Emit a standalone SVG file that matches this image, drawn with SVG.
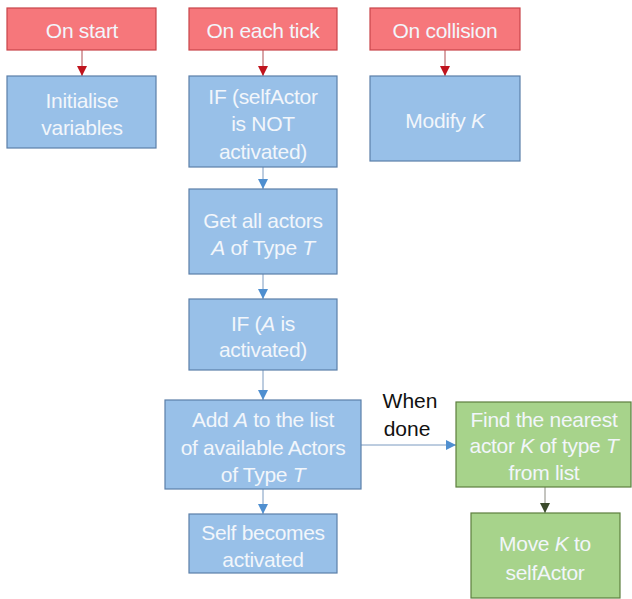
<svg xmlns="http://www.w3.org/2000/svg" width="632" height="599" viewBox="0 0 632 599">
<defs>
<style>
.red{fill:#f6777b;stroke:#c9454a;stroke-width:1.2}
.blue{fill:#98c0e8;stroke:#5b7fa8;stroke-width:1.2}
.green{fill:#a7d38b;stroke:#5d7f3e;stroke-width:1.2}
.t{font-family:"Liberation Sans",Arial,sans-serif;font-size:21px;fill:#f2f6fb;text-anchor:middle;letter-spacing:-0.3px}
.lbl{font-family:"Liberation Sans",Arial,sans-serif;font-size:21px;fill:#111;text-anchor:middle}
.cr{stroke:#b24a50;stroke-width:1;fill:none}
.cb{stroke:#7a9ac0;stroke-width:1;fill:none}
.cg{stroke:#8a8a80;stroke-width:1;fill:none}
</style>
<marker id="ar" viewBox="0 0 10 10" refX="10" refY="5" markerWidth="10" markerHeight="10" markerUnits="userSpaceOnUse" orient="auto"><path d="M0,0L10,5L0,10z" fill="#c0141e"/></marker>
<marker id="ab" viewBox="0 0 10 10" refX="10" refY="5" markerWidth="10" markerHeight="10" markerUnits="userSpaceOnUse" orient="auto"><path d="M0,0L10,5L0,10z" fill="#4f8fd0"/></marker>
<marker id="ag" viewBox="0 0 10 10" refX="10" refY="5" markerWidth="10" markerHeight="10" markerUnits="userSpaceOnUse" orient="auto"><path d="M0,0L10,5L0,10z" fill="#3b4b2b"/></marker>
</defs>
<rect width="632" height="599" fill="#fff"/>
<g id="connectors">
<line class="cr" x1="82" y1="50" x2="82" y2="76" marker-end="url(#ar)"/>
<line class="cr" x1="263" y1="50" x2="263" y2="76" marker-end="url(#ar)"/>
<line class="cr" x1="445" y1="50" x2="445" y2="76" marker-end="url(#ar)"/>
<line class="cb" x1="263" y1="167" x2="263" y2="189" marker-end="url(#ab)"/>
<line class="cb" x1="263" y1="274" x2="263" y2="299" marker-end="url(#ab)"/>
<line class="cb" x1="263" y1="370" x2="263" y2="400" marker-end="url(#ab)"/>
<line class="cb" x1="263" y1="489" x2="263" y2="514" marker-end="url(#ab)"/>
<line class="cb" x1="361" y1="445" x2="456" y2="445" marker-end="url(#ab)"/>
<line class="cg" x1="545" y1="487" x2="545" y2="513" marker-end="url(#ag)"/>
<text class="lbl" x="410" y="408">When</text>
<text class="lbl" x="407" y="436">done</text>
</g>
<g id="on-start"><rect class="red" x="7" y="8" width="149" height="42"/><text class="t" x="82" y="38">On start</text></g>
<g id="on-each-tick"><rect class="red" x="189" y="8" width="148" height="42"/><text class="t" x="263" y="38">On each tick</text></g>
<g id="on-collision"><rect class="red" x="370" y="8" width="150" height="42"/><text class="t" x="445" y="38">On collision</text></g>
<g id="initialise"><rect class="blue" x="7" y="76" width="149" height="72"/><text class="t" x="82" y="108">Initialise</text><text class="t" x="82" y="135">variables</text></g>
<g id="if-self"><rect class="blue" x="189" y="76" width="148" height="91"/><text class="t" x="263" y="104">IF (selfActor</text><text class="t" x="263" y="131">is NOT</text><text class="t" x="263" y="159">activated)</text></g>
<g id="modify-k"><rect class="blue" x="370" y="76" width="150" height="85"/><text class="t" x="445" y="128">Modify <tspan font-style="italic">K</tspan></text></g>
<g id="get-actors"><rect class="blue" x="189" y="189" width="148" height="85"/><text class="t" x="263" y="228">Get all actors</text><text class="t" x="263" y="255"><tspan font-style="italic">A</tspan> of Type <tspan font-style="italic">T</tspan></text></g>
<g id="if-a"><rect class="blue" x="189" y="299" width="148" height="71"/><text class="t" x="263" y="331">IF (<tspan font-style="italic">A</tspan> is</text><text class="t" x="263" y="357">activated)</text></g>
<g id="add-a"><rect class="blue" x="165" y="400" width="196" height="89"/><text class="t" x="263" y="427">Add <tspan font-style="italic">A</tspan> to the list</text><text class="t" x="263" y="455">of available Actors</text><text class="t" x="263" y="482">of Type <tspan font-style="italic">T</tspan></text></g>
<g id="self-activated"><rect class="blue" x="189" y="514" width="148" height="59"/><text class="t" x="263" y="540">Self becomes</text><text class="t" x="263" y="567">activated</text></g>
<g id="find-nearest"><rect class="green" x="456" y="402" width="175" height="85"/><text class="t" x="544" y="427">Find the nearest</text><text class="t" x="544" y="453">actor <tspan font-style="italic">K</tspan> of type <tspan font-style="italic">T</tspan></text><text class="t" x="544" y="480">from list</text></g>
<g id="move-k"><rect class="green" x="471" y="513" width="149" height="85"/><text class="t" x="545" y="551">Move <tspan font-style="italic">K</tspan> to</text><text class="t" x="545" y="580">selfActor</text></g>
</svg>
